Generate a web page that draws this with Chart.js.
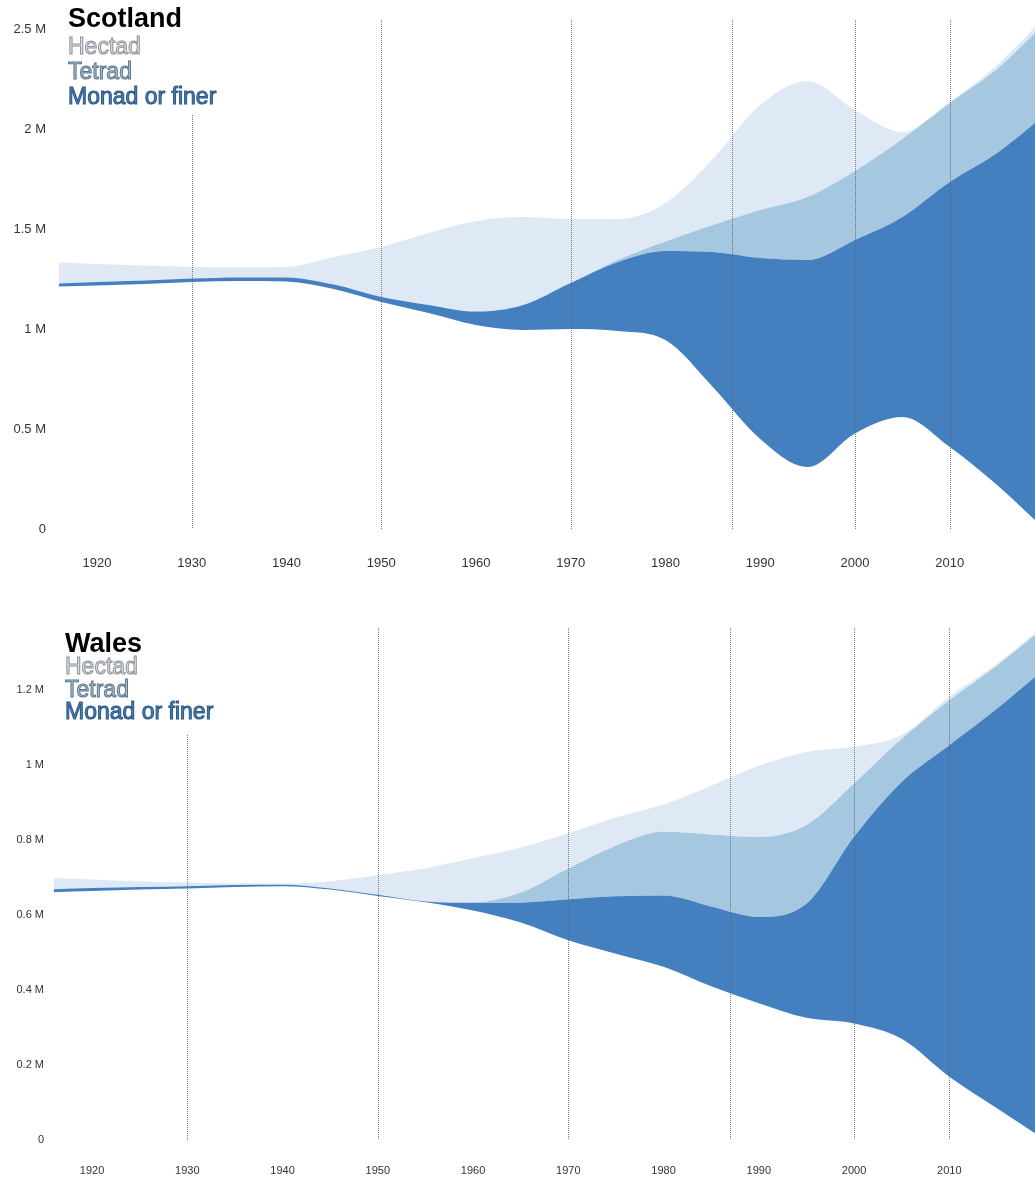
<!DOCTYPE html>
<html>
<head>
<meta charset="utf-8">
<title>Scotland and Wales records</title>
<script src="https://cdn.jsdelivr.net/npm/chart.js"></script>
<style>
  html, body { margin: 0; padding: 0; background: #fff; }
  body { width: 1035px; height: 1180px; position: relative; overflow: hidden; font-family: "Liberation Sans", Arial, sans-serif; }
  .panel { position: absolute; left: 0; width: 1035px; }
  .label { position: absolute; white-space: nowrap; line-height: 1; }
  .title { font-size: 27px; font-weight: bold; color: #000; }
  .key { font-size: 23px; -webkit-text-stroke: 1px; }
  .hectad { color: #dfe9f5; -webkit-text-stroke-color: #8c8f94; }
  .tetrad { color: #a5c8e0; -webkit-text-stroke-color: #5d7489; }
  .monad { color: #4480bf; -webkit-text-stroke-color: #2f5780; }
</style>
</head>
<body>
<div class="panel" id="scotlandPanel" style="top:0;height:590px;"><canvas id="scotlandChart"></canvas></div>
<div class="panel" id="walesPanel" style="top:600px;height:580px;"><canvas id="walesChart"></canvas></div>

<div class="label title" style="left:68px;top:5px;">Scotland</div>
<div class="label key hectad" style="left:68px;top:35px;">Hectad</div>
<div class="label key tetrad" style="left:68px;top:60px;">Tetrad</div>
<div class="label key monad" style="left:68px;top:85px;">Monad or finer</div>

<div class="label title" style="left:65px;top:630px;">Wales</div>
<div class="label key hectad" style="left:65px;top:655px;">Hectad</div>
<div class="label key tetrad" style="left:65px;top:678px;">Tetrad</div>
<div class="label key monad" style="left:65px;top:700px;">Monad or finer</div>

<script>
// ----- Data (millions of records) -----
const years = [1916, 1920, 1925, 1930, 1935, 1940, 1945, 1950, 1955, 1960, 1965,
  1970, 1975, 1980, 1985, 1990, 1995, 2000, 2005, 2010, 2015, 2019];

// stream offset below the monad band
const scotlandOffset = [1.212, 1.218, 1.225, 1.235, 1.24, 1.237, 1.2, 1.135, 1.08, 1.02, 0.995,
  1.0, 0.99, 0.945, 0.71, 0.45, 0.31, 0.478, 0.56, 0.41, 0.22, 0.045];
const scotlandMonad = [0.016, 0.017, 0.017, 0.017, 0.018, 0.021, 0.022, 0.025, 0.04, 0.067, 0.125,
  0.23, 0.345, 0.445, 0.675, 0.905, 1.035, 0.967, 1.0, 1.325, 1.66, 1.985];
const scotlandTetrad = [0, 0, 0, 0, 0, 0, 0, 0, 0, 0, 0,
  0, 0.01, 0.047, 0.135, 0.24, 0.315, 0.345, 0.39, 0.395, 0.42, 0.45];
const scotlandHectad = [0.105, 0.09, 0.076, 0.058, 0.05, 0.052, 0.138, 0.25, 0.36, 0.453, 0.44,
  0.32, 0.205, 0.193, 0.33, 0.525, 0.58, 0.305, 0.035, 0.005, 0.02, 0.03];

const walesOffset = [0.661, 0.664, 0.668, 0.671, 0.675, 0.677, 0.668, 0.651, 0.634, 0.612, 0.58,
  0.533, 0.497, 0.462, 0.41, 0.365, 0.326, 0.311, 0.27, 0.169, 0.085, 0.018];
const walesMonad = [0.008, 0.008, 0.007, 0.006, 0.005, 0.004, 0.003, 0.003, 0.002, 0.02, 0.053,
  0.109, 0.153, 0.19, 0.213, 0.23, 0.304, 0.498, 0.685, 0.884, 1.065, 1.217];
const walesTetrad = [0, 0, 0, 0, 0, 0, 0, 0, 0, 0.002, 0.027,
  0.082, 0.135, 0.17, 0.192, 0.213, 0.21, 0.142, 0.115, 0.12, 0.115, 0.112];
const walesHectad = [0.029, 0.023, 0.015, 0.01, 0.005, 0.003, 0.019, 0.053, 0.089, 0.118, 0.12,
  0.094, 0.075, 0.073, 0.13, 0.19, 0.195, 0.098, 0.01, 0.009, 0.005, 0.005];

// ----- Ticks and marker years -----
const yearTicks = [1920, 1930, 1940, 1950, 1960, 1970, 1980, 1990, 2000, 2010];
const scotlandTicks = [0, 0.5, 1, 1.5, 2, 2.5];
const walesTicks = [0, 0.2, 0.4, 0.6, 0.8, 1, 1.2];
const periodYears = [1930, 1950, 1970, 1987, 2000, 2010];

const colors = {
  monad: "#4480bf",
  tetrad: "#a5c8e0",
  hectad: "#dfe9f5",
};

// ----- Helpers -----
function points(values) {
  return values.map((v, i) => ({ x: years[i], y: v }));
}

function band(label, values, color, fill) {
  return {
    label: label,
    data: points(values),
    backgroundColor: color,
    borderColor: "transparent",
    borderWidth: 0,
    pointRadius: 0,
    fill: fill,
    cubicInterpolationMode: "monotone",
  };
}

function formatMillions(v) {
  return v === 0 ? "0" : v + " M";
}

// dotted period lines, drawn over the bands
const periodLines = {
  id: "periodLines",
  afterDatasetsDraw(chart, args, opts) {
    const ctx = chart.ctx;
    const x = chart.scales.x;
    const bottom = chart.chartArea.bottom;
    ctx.save();
    ctx.strokeStyle = "rgba(100,100,100,0.85)";
    ctx.lineWidth = 1;
    ctx.setLineDash([1, 1]);
    periodYears.forEach((yr) => {
      const px = Math.round(x.getPixelForValue(yr)) + 0.5;
      const top = yr === periodYears[0] ? opts.firstTop : opts.top;
      ctx.beginPath();
      ctx.moveTo(px, top);
      ctx.lineTo(px, bottom);
      ctx.stroke();
    });
    ctx.restore();
  },
};

// ----- Chart builder -----
function makeChart(id, s) {
  const ctx = document.getElementById(id).getContext("2d");
  return new Chart(ctx, {
    type: "line",
    data: {
      datasets: [
        band("offset", s.offset, "transparent", false),
        band("Monad or finer", s.monad, colors.monad, "-1"),
        band("Tetrad", s.tetrad, colors.tetrad, "-1"),
        band("Hectad", s.hectad, colors.hectad, "-1"),
      ],
    },
    options: {
      responsive: true,
      maintainAspectRatio: false,
      animation: false,
      events: [],
      layout: { padding: { top: s.padTop, left: 0, right: 0, bottom: 0 } },
      plugins: {
        legend: { display: false },
        tooltip: { enabled: false },
        periodLines: { top: s.lineTop, firstTop: s.firstLineTop },
      },
      scales: {
        x: {
          type: "linear",
          min: 1916,
          max: 2019,
          grid: { display: false, drawTicks: false },
          border: { display: false },
          afterBuildTicks: (scale) => {
            scale.ticks = yearTicks.map((v) => ({ value: v }));
          },
          afterFit: (scale) => {
            scale.height = s.xHeight;
            scale.paddingLeft = 0;
            scale.paddingRight = 0;
          },
          ticks: {
            padding: s.xPad,
            color: "#333",
            font: { family: "'Liberation Sans', Arial, sans-serif", size: s.fontSize },
            callback: (v) => String(v),
          },
        },
        y: {
          stacked: true,
          min: 0,
          max: s.max,
          grid: { display: false, drawTicks: false },
          border: { display: false },
          afterBuildTicks: (scale) => {
            scale.ticks = s.ticks.map((v) => ({ value: v }));
          },
          afterFit: (scale) => {
            scale.width = s.left;
            scale.paddingTop = 0;
            scale.paddingBottom = 0;
          },
          ticks: {
            padding: s.yPad,
            color: "#333",
            font: { family: "'Liberation Sans', Arial, sans-serif", size: s.fontSize },
            callback: formatMillions,
          },
        },
      },
    },
    plugins: [periodLines],
  });
}

// ----- Initialization -----
document.addEventListener("DOMContentLoaded", () => {
  makeChart("scotlandChart", {
    offset: scotlandOffset,
    monad: scotlandMonad,
    tetrad: scotlandTetrad,
    hectad: scotlandHectad,
    ticks: scotlandTicks,
    max: 2.6,
    padTop: 9,
    xHeight: 61,
    xPad: 27,
    left: 59,
    yPad: 13,
    fontSize: 13,
    lineTop: 20,
    firstLineTop: 115,
  });
  makeChart("walesChart", {
    offset: walesOffset,
    monad: walesMonad,
    tetrad: walesTetrad,
    hectad: walesHectad,
    ticks: walesTicks,
    max: 1.38,
    padTop: 22.5,
    xHeight: 40,
    xPad: 24,
    left: 54,
    yPad: 10,
    fontSize: 11,
    lineTop: 28,
    firstLineTop: 135,
  });
});
</script>
</body>
</html>
